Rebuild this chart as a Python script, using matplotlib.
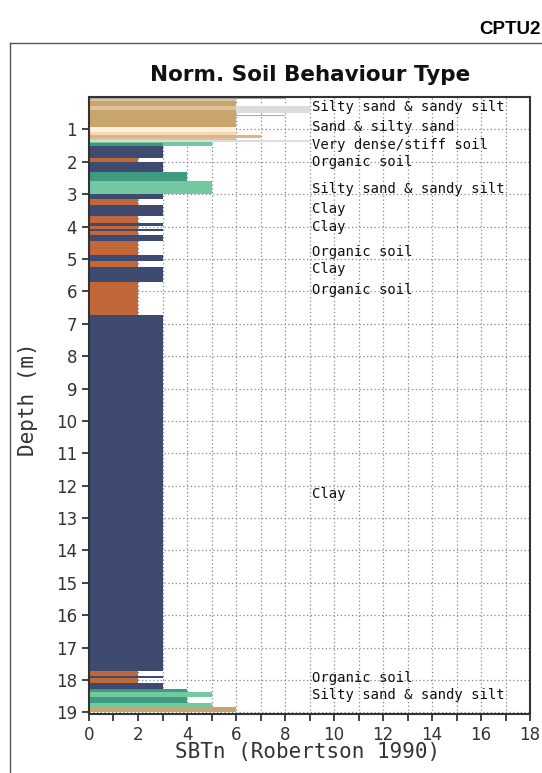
import matplotlib
matplotlib.use("Agg")
import matplotlib.pyplot as plt
from matplotlib.lines import Line2D

# layers: top depth, bottom depth (m), SBTn bar length, colour key
depth_top = [0.00, 0.06, 0.13, 0.29, 0.29, 0.41, 0.55, 0.60, 0.94, 1.08,
             1.18, 1.27, 1.33, 1.38, 1.43, 1.50, 1.89, 2.02, 2.30, 2.60,
             3.00, 3.15, 3.33, 3.66, 3.90, 3.97, 4.09, 4.15, 4.27, 4.46,
             4.89, 5.07, 5.26, 5.72, 6.74, 17.73, 17.88, 17.95, 18.10, 18.28,
             18.37, 18.53, 18.72, 18.84]
depth_bot = [0.06, 0.13, 0.29, 0.48, 0.41, 0.55, 0.60, 0.94, 1.08, 1.18,
             1.27, 1.33, 1.38, 1.50, 1.50, 1.89, 2.02, 2.30, 2.60, 3.00,
             3.15, 3.33, 3.66, 3.90, 3.97, 4.09, 4.15, 4.27, 4.46, 4.89,
             5.07, 5.26, 5.72, 6.74, 17.73, 17.88, 17.95, 18.10, 18.28, 18.37,
             18.53, 18.72, 18.84, 19.00]
sbtn = [8, 6, 6, 9, 6, 6, 8, 6, 6, 6,
        7, 6, 9, 5, 3, 3, 2, 3, 4, 5,
        3, 2, 3, 2, 3, 2, 3, 2, 3, 2,
        3, 2, 3, 2, 3, 2, 3, 2, 3, 4,
        5, 4, 5, 6]
zone = ["grey", "beige", "tan", "lgrey", "beige", "tan", "grey", "tan", "cream", "peach",
        "salmon", "beige", "lgrey", "lgreen", "teal", "clay", "org", "clay", "teal", "lgreen",
        "clay", "org", "clay", "org", "clay", "org", "clay", "org", "clay", "org",
        "clay", "org", "clay", "org", "clay", "org", "clay", "org", "clay", "teal",
        "lgreen", "teal", "lgreen", "tan"]

label_depth = [0.30, 0.94, 1.47, 2.00, 2.85, 3.47, 4.00, 4.77, 5.32, 5.97,
               12.27, 17.95, 18.45]
label_text = ["Silty sand & sandy silt", "Sand & silty sand", "Very dense/stiff soil",
              "Organic soil", "Silty sand & sandy silt", "Clay", "Clay", "Organic soil",
              "Clay", "Organic soil", "Clay", "Organic soil", "Silty sand & sandy silt"]

colors = {
    "clay": "#3e4a70", "org": "#c2673a", "teal": "#3f9a80", "lgreen": "#72c9a0",
    "tan": "#c9a56d", "beige": "#d9c49c", "cream": "#fdf1dc", "peach": "#f3d9b8",
    "salmon": "#e2b283", "lgrey": "#dcdcdc", "grey": "#a9a9a9",
}

fig = plt.figure(figsize=(5.42, 7.73), dpi=100)
ax = fig.add_axes([0.1642, 0.0763, 0.8137, 0.7982])

for t, b, v, z in zip(depth_top, depth_bot, sbtn, zone):
    ax.barh((t + b) / 2, v, height=b - t, color=colors[z], linewidth=0, zorder=2)

for d, s in zip(label_depth, label_text):
    ax.text(9.1, d, s, fontsize=10, va="center", ha="left", color="#111",
            family="DejaVu Sans Mono", zorder=3)

ax.set_xlim(0, 18)
ax.set_ylim(19.05, 0)
ax.set_xticks(range(0, 19, 2))
ax.set_xticks(range(0, 19), minor=True)
ax.set_yticks(range(1, 20))
ax.grid(True, which="both", color="#888", linestyle=(0, (1, 2)), linewidth=0.9, zorder=1)
ax.set_axisbelow(True)
ax.tick_params(axis="both", which="both", direction="out", length=5, width=1.2,
               labelsize=12, labelcolor="#333", color="#222")
for sp in ax.spines.values():
    sp.set_color("#333")
    sp.set_linewidth(1.5)

fig.text(0.052, 0.483, "Depth (m)", rotation=90, ha="center", va="center",
         fontsize=15, color="#333", family="DejaVu Sans Mono")
fig.text(0.567, 0.027, "SBTn (Robertson 1990)", ha="center", va="center",
         fontsize=15, color="#333", family="DejaVu Sans Mono")
fig.text(0.572, 0.903, "Norm. Soil Behaviour Type", ha="center", va="center",
         fontsize=15.5, fontweight="bold", color="#111")
fig.text(0.997, 0.962, "CPTU2", ha="right", va="center", fontsize=13.5,
         fontweight="bold", family="Liberation Sans")

# outer panel frame
fig.add_artist(Line2D([0.0185, 0.0185], [0, 0.9444], color="#555", lw=1))
fig.add_artist(Line2D([0.0185, 1], [0.9444, 0.9444], color="#555", lw=1))

fig.savefig("out.png", dpi=100)
